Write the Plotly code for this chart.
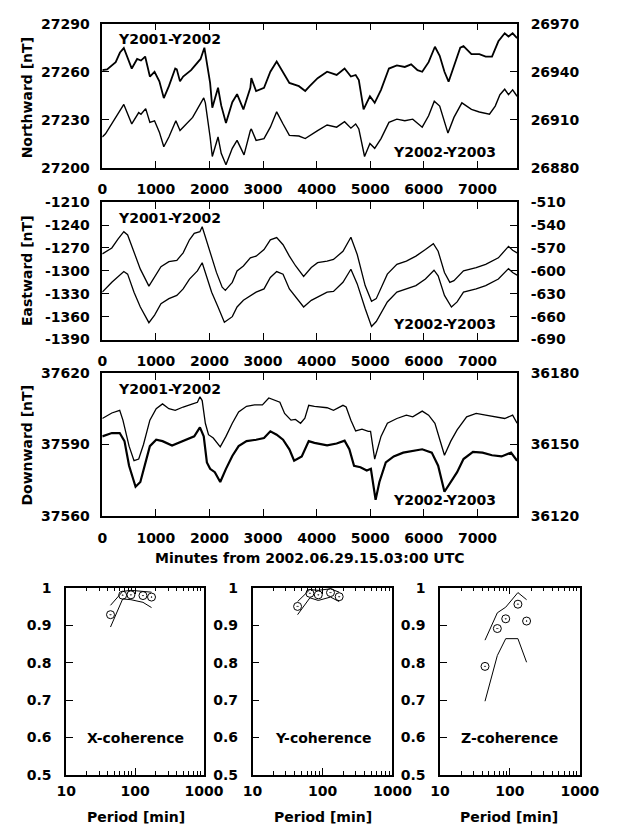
import plotly.graph_objects as go

W, H = 617, 837

# ---------------- data ----------------
# Northward, Y2001-Y2002 (left axis)
T_N_UP = [0, 90, 250, 330, 402, 550, 650, 722, 800, 888, 975, 1065, 1148, 1243, 1361, 1390, 1450, 1509,
          1657, 1834, 1905, 2012, 2053, 2160, 2219, 2308, 2426, 2515, 2633, 2763, 2781, 2870, 3018, 3136,
          3254, 3373, 3491, 3669, 3787, 3870, 4018, 4195, 4373, 4521, 4639, 4728, 4787, 4876, 4994, 5083,
          5201, 5349, 5497, 5645, 5763, 5882, 5970, 6089, 6207, 6296, 6385, 6462, 6562, 6680, 6740, 6888,
          7036, 7154, 7272, 7391, 7509, 7580, 7657, 7740]
N_UP = [27261, 27261.5, 27266, 27272, 27274.8, 27262, 27268, 27267, 27269.5, 27257, 27260, 27254, 27243.6,
        27251, 27262, 27261.5, 27254, 27257, 27261, 27268, 27275, 27253, 27237.6, 27250, 27239, 27228,
        27241, 27246, 27236.5, 27250, 27256, 27248, 27250, 27260, 27266.4, 27260, 27253, 27251, 27248,
        27251, 27256, 27260, 27258, 27262, 27257, 27258, 27254.8, 27236.5, 27244.7, 27240.6, 27248.7,
        27262, 27264, 27263, 27264.6, 27261, 27260, 27266, 27275.6, 27270, 27260, 27253.8, 27264, 27275,
        27276, 27271, 27271, 27269.5, 27269.5, 27279, 27284, 27282, 27284, 27281]
# Northward, Y2002-Y2003 (right axis)
T_N_LO = [0, 60, 402, 550, 680, 722, 810, 888, 975, 1065, 1148, 1243, 1373, 1450, 1509, 1686, 1893, 1923,
          2012, 2053, 2160, 2219, 2308, 2426, 2515, 2645, 2763, 2781, 2870, 3018, 3136, 3254, 3373, 3491,
          3669, 3787, 4018, 4195, 4373, 4521, 4639, 4728, 4787, 4894, 4994, 5083, 5201, 5349, 5497, 5645,
          5793, 5970, 6089, 6195, 6296, 6385, 6450, 6562, 6710, 6888, 7036, 7225, 7332, 7420, 7509, 7580,
          7657, 7740]
N_LO = [26899.3, 26901.3, 26919.6, 26907.4, 26914.5, 26913.5, 26917, 26908.4, 26909.4, 26902.3, 26893.2,
        26899.3, 26909.4, 26903.3, 26905.4, 26911.5, 26923.7, 26920.6, 26899.3, 26887.1, 26899.3, 26889.1,
        26882, 26892.2, 26897.2, 26888.1, 26903.3, 26904.3, 26897.2, 26898.3, 26905.4, 26915, 26907.4,
        26900.3, 26899.9, 26898.3, 26903.3, 26906.8, 26905.4, 26908.8, 26904.8, 26907.4, 26904.3, 26887.1,
        26895.2, 26892.2, 26898.3, 26908.4, 26910.4, 26909.4, 26910.4, 26905.4, 26912.5, 26921.6, 26918.6,
        26908.4, 26901.7, 26911.5, 26920.6, 26916.5, 26914.9, 26913.5, 26918.6, 26925.7, 26929.1, 26925.7,
        26928.7, 26924.7]

# Eastward, Y2001-Y2002 (left axis)
T_E_UP = [0, 178, 296, 402, 473, 592, 710, 870, 976, 1095, 1243, 1391, 1509, 1627, 1716, 1822, 1864, 1923,
          2012, 2130, 2237, 2296, 2426, 2515, 2633, 2763, 2870, 3018, 3136, 3254, 3373, 3491, 3609, 3757,
          3900, 4018, 4195, 4314, 4491, 4639, 4757, 4905, 5024, 5112, 5319, 5497, 5674, 5852, 6030, 6178,
          6267, 6385, 6485, 6562, 6740, 6977, 7154, 7391, 7580, 7657, 7740]
E_UP = [-1277.7, -1270, -1258, -1248.6, -1252.9, -1276.3, -1297.7, -1320, -1308.6, -1294.4, -1288, -1286.3,
        -1276.3, -1259.3, -1250.7, -1248.6, -1242.1, -1255, -1276.3, -1302, -1321.3, -1325.6, -1315, -1300,
        -1293.6, -1282.9, -1280.7, -1272.1, -1259.3, -1256.3, -1265.7, -1280.7, -1293.6, -1307.3, -1295.7,
        -1289.3, -1287.1, -1285, -1274.3, -1255.9, -1278.6, -1319.3, -1339.9, -1336.4, -1304.3, -1291.4,
        -1287.1, -1280.7, -1272.1, -1264.4, -1274.3, -1302.1, -1315, -1312.9, -1300, -1295.7, -1291.4,
        -1282.9, -1267.9, -1273, -1276.4]
# Eastward, Y2002-Y2003 (right axis)
T_E_LO = [0, 178, 402, 473, 592, 710, 870, 976, 1095, 1243, 1391, 1509, 1627, 1775, 1864, 1923, 2041, 2160,
          2278, 2426, 2515, 2633, 2763, 2870, 3018, 3136, 3254, 3373, 3491, 3609, 3757, 3900, 4018, 4195,
          4314, 4491, 4639, 4757, 4905, 5024, 5112, 5319, 5497, 5674, 5852, 6030, 6190, 6267, 6385, 6515,
          6621, 6740, 6977, 7154, 7391, 7580, 7657, 7740]
E_LO = [-627.9, -615, -600.9, -604.3, -627.9, -647.3, -667.9, -657.9, -642.9, -636.4, -632.1, -623.6, -610.7,
        -600, -589.3, -602.1, -627.9, -647.3, -667.4, -660, -647.3, -638.6, -632.1, -627.9, -623.6, -608.6,
        -600.9, -604.3, -623.6, -634.3, -647.3, -638.6, -634.3, -627.9, -627, -615, -597.9, -617.1, -649.3,
        -672.9, -666.4, -640.7, -627.9, -623.6, -619.3, -610.7, -599.1, -606.4, -632.1, -647.3, -640.7,
        -627.9, -623.6, -619.3, -610.7, -597.1, -602.1, -605.6]

# Downward, Y2001-Y2002 (left axis)
T_D_UP = [0, 178, 325, 385, 500, 592, 680, 769, 888, 1006, 1124, 1243, 1361, 1509, 1686, 1775, 1822, 1864,
          1923, 1982, 2071, 2201, 2308, 2426, 2544, 2692, 2840, 2988, 3107, 3195, 3314, 3402, 3521, 3604,
          3700, 3780, 3852, 3959, 4195, 4314, 4491, 4550, 4639, 4728, 4846, 4964, 5006, 5083, 5201, 5320,
          5497, 5674, 5793, 5970, 6089, 6207, 6296, 6385, 6503, 6621, 6799, 6977, 7154, 7332, 7509, 7657,
          7740]
D_UP = [37600.9, 37603.2, 37604.3, 37600.2, 37589.3, 37583.2, 37583.9, 37590, 37600.2, 37605, 37607, 37605,
        37604.3, 37605.7, 37607, 37607.7, 37610, 37608.4, 37598.9, 37594.1, 37592.7, 37589, 37593.4,
        37598.9, 37603.6, 37606, 37606.6, 37606.6, 37609.5, 37608.7, 37607.7, 37603, 37600.2, 37600.5,
        37598.9, 37601, 37606.4, 37606, 37605.4, 37604.3, 37606.4, 37605.7, 37600.2, 37595.7, 37596.4,
        37595.5, 37595.5, 37583.9, 37593.4, 37598.9, 37600.9, 37602.3, 37601.6, 37604, 37602.3, 37598.9,
        37592.7, 37585.5, 37591.4, 37596.1, 37601.6, 37603, 37602.3, 37601.6, 37600.9, 37602.3, 37598.9]
# Downward, Y2002-Y2003 (right axis)
T_D_LO = [0, 178, 325, 414, 500, 621, 710, 799, 888, 1006, 1124, 1302, 1509, 1716, 1822, 1893, 1952, 2012,
          2100, 2201, 2308, 2426, 2544, 2692, 2870, 3018, 3136, 3254, 3373, 3491, 3580, 3604, 3722, 3852,
          3959, 4195, 4373, 4521, 4610, 4698, 4817, 4935, 5012, 5100, 5171, 5290, 5438, 5615, 5793, 5970,
          6148, 6267, 6385, 6503, 6621, 6740, 6917, 7095, 7272, 7450, 7627, 7740]
D_LO = [36153.4, 36154.8, 36154.8, 36151.4, 36141.1, 36132.3, 36134.3, 36141.8, 36149.3, 36152, 36151.4,
        36149.6, 36151.4, 36153.4, 36157.2, 36153.4, 36142.5, 36139.8, 36138.4, 36134.3, 36139.8, 36145.2,
        36149.3, 36151.4, 36152, 36152.7, 36155.5, 36154.1, 36152, 36148, 36143.2, 36143.5, 36145, 36151.4,
        36150.7, 36149.6, 36150.4, 36151.6, 36148, 36141.1, 36140.5, 36139.1, 36139.8, 36126.8, 36134.3,
        36142.5, 36145, 36146.6, 36147.3, 36148, 36146.6, 36141.1, 36130.2, 36134.3, 36138.4, 36143.9,
        36146.9, 36146.6, 36145.5, 36145, 36146.6, 36143.2]

# Coherence panels
PERIODS = [44, 66, 87, 130, 173]
X_COH = [0.928, 0.980, 0.981, 0.979, 0.975]
X_LOW = [0.895, 0.970, 0.968, 0.961, 0.947]
X_UPP = [0.953, 0.990, 0.993, 0.991, 0.988]
Y_COH = [0.950, 0.985, 0.981, 0.987, 0.976]
Y_LOW = [0.928, 0.973, 0.966, 0.975, 0.963]
Y_UPP = [0.963, 0.995, 0.993, 0.997, 0.988]
Z_COH = [0.790, 0.891, 0.917, 0.956, 0.911]
Z_LOW = [0.697, 0.819, 0.864, 0.864, 0.801]
Z_UPP = [0.860, 0.933, 0.948, 0.987, 0.968]

# axis ranges / tick labels
N_LEFT_TICKS = [27200, 27230, 27260, 27290]
N_RIGHT_TICKS = [26880, 26910, 26940, 26970]
E_LEFT_TICKS = [-1390, -1360, -1330, -1300, -1270, -1240, -1210]
E_RIGHT_TICKS = [-690, -660, -630, -600, -570, -540, -510]
D_LEFT_TICKS = [37560, 37590, 37620]
D_RIGHT_TICKS = [36120, 36150, 36180]
T_TICKS = [0, 1000, 2000, 3000, 4000, 5000, 6000, 7000]
T_RANGE = [0, 7740]
COH_RANGE = [0.5, 1.0]
COH_TICKS = [0.5, 0.6, 0.7, 0.8, 0.9, 1.0]
COH_TICKTEXT = ["0.5", "0.6", "0.7", "0.8", "0.9", "1"]
PER_TICKS = [10, 100, 1000]
PER_MINOR = [20, 30, 40, 50, 60, 70, 80, 90, 200, 300, 400, 500, 600, 700, 800, 900]

FONT = dict(family="DejaVu Sans", size=14, color="black", weight="bold")


def fx(p):
    return p / W


def fy(p):
    return 1 - p / H


def labels(vals):
    return [str(v) for v in vals]


fig = go.Figure()

top = [(T_N_UP, N_UP, T_N_LO, N_LO, 1.8, 1.4),
       (T_E_UP, E_UP, T_E_LO, E_LO, 1.3, 1.3),
       (T_D_UP, D_UP, T_D_LO, D_LO, 1.3, 2.2)]
for i, (tu, vu, tl, vl, w1, w2) in enumerate(top):
    xa = "x" if i == 0 else f"x{i+1}"
    ya = "y" if i == 0 else f"y{2*i+1}"
    yb = f"y{2*i+2}"
    fig.add_trace(go.Scatter(x=tu, y=vu, xaxis=xa, yaxis=ya, mode="lines",
                             line=dict(color="black", width=w1), showlegend=False))
    fig.add_trace(go.Scatter(x=tl, y=vl, xaxis=xa, yaxis=yb, mode="lines",
                             line=dict(color="black", width=w2), showlegend=False))

bottom = [(X_COH, X_LOW, X_UPP), (Y_COH, Y_LOW, Y_UPP), (Z_COH, Z_LOW, Z_UPP)]
for j, (c, lo, up) in enumerate(bottom):
    xa = f"x{j+4}"
    ya = f"y{j+7}"
    for b in (lo, up):
        fig.add_trace(go.Scatter(x=PERIODS, y=b, xaxis=xa, yaxis=ya, mode="lines",
                                 line=dict(color="black", width=1), showlegend=False))
    fig.add_trace(go.Scatter(x=PERIODS, y=c, xaxis=xa, yaxis=ya, mode="markers",
                             marker=dict(symbol="circle-open-dot", size=8, color="black",
                                         line=dict(color="black", width=1)),
                             showlegend=False))

layout = dict(width=W, height=H, margin=dict(l=0, r=0, t=0, b=0),
              paper_bgcolor="white", plot_bgcolor="white", font=FONT, showlegend=False)

AX = dict(showline=True, linecolor="black", linewidth=1.5, ticks="inside", tickcolor="black",
          tickwidth=1.3, showgrid=False, zeroline=False, tickfont=FONT)

panels_y = [(16, 163), (198, 338), (372, 518)]
ticks = [(N_LEFT_TICKS, N_RIGHT_TICKS), (E_LEFT_TICKS, E_RIGHT_TICKS), (D_LEFT_TICKS, D_RIGHT_TICKS)]
for i, ((ytop, ybot), (tl, tr)) in enumerate(zip(panels_y, ticks)):
    xk = "xaxis" if i == 0 else f"xaxis{i+1}"
    yk = "yaxis" if i == 0 else f"yaxis{2*i+1}"
    yk2 = f"yaxis{2*i+2}"
    xa = "x" if i == 0 else f"x{i+1}"
    ya = "y" if i == 0 else f"y{2*i+1}"
    layout[xk] = dict(AX, domain=[fx(97), fx(533)], range=T_RANGE, tickvals=T_TICKS,
                      ticktext=labels(T_TICKS), ticklen=7, mirror="ticks", anchor=ya,
                      ticklabelstandoff=8)
    layout[yk] = dict(AX, domain=[fy(ybot), fy(ytop)], range=[tl[0], tl[-1]], tickvals=tl,
                      ticktext=labels(tl), ticklen=7, anchor=xa, ticklabelstandoff=8)
    layout[yk2] = dict(AX, range=[tr[0], tr[-1]], tickvals=tr, ticktext=labels(tr), ticklen=7,
                       anchor=xa, overlaying=ya, side="right", ticklabelstandoff=9)

bx = [(59, 204), (255, 402), (452, 599)]
for j, (x0, x1) in enumerate(bx):
    layout[f"xaxis{j+4}"] = dict(AX, type="log", domain=[fx(x0), fx(x1)], range=[1, 3],
                                 tickvals=PER_TICKS, ticktext=labels(PER_TICKS),
                                 ticklen=7, mirror="ticks", anchor=f"y{j+7}", ticklabelstandoff=2,
                                 minor=dict(tickvals=PER_MINOR, ticks="inside", ticklen=4,
                                            tickcolor="black", tickwidth=1, showgrid=False))
    layout[f"yaxis{j+7}"] = dict(AX, domain=[fy(782), fy(591)], range=COH_RANGE,
                                 tickvals=COH_TICKS, ticktext=COH_TICKTEXT, ticklen=7,
                                 mirror=True, anchor=f"x{j+4}", ticklabelstandoff=10)

fig.update_layout(**layout)

ann = []


def A(text, x, y, xanchor="center", yanchor="middle", angle=0):
    ann.append(dict(text=text, x=fx(x), y=fy(y), xref="paper", yref="paper", showarrow=False,
                    xanchor=xanchor, yanchor=yanchor, textangle=angle, font=FONT))


for yc in (32, 214, 388.5):
    A("Y2001-Y2002", 111, yc, xanchor="left")
for yc in (147, 322.5, 502):
    A("Y2002-Y2003", 513, yc, xanchor="right")
A("Northward [nT]", 18, 92, angle=-90)
A("Eastward [nT]", 18, 268, angle=-90)
A("Downward [nT]", 18, 446, angle=-90)
A("Minutes from 2002.06.29.15.03:00 UTC", 315, 561)
for cx, lab in zip((132, 329, 525), ("X-coherence", "Y-coherence", "Z-coherence")):
    A(lab, cx, 744)
    A("Period [min]", cx, 825)

fig.update_layout(annotations=ann)
fig.write_html("out.html")
